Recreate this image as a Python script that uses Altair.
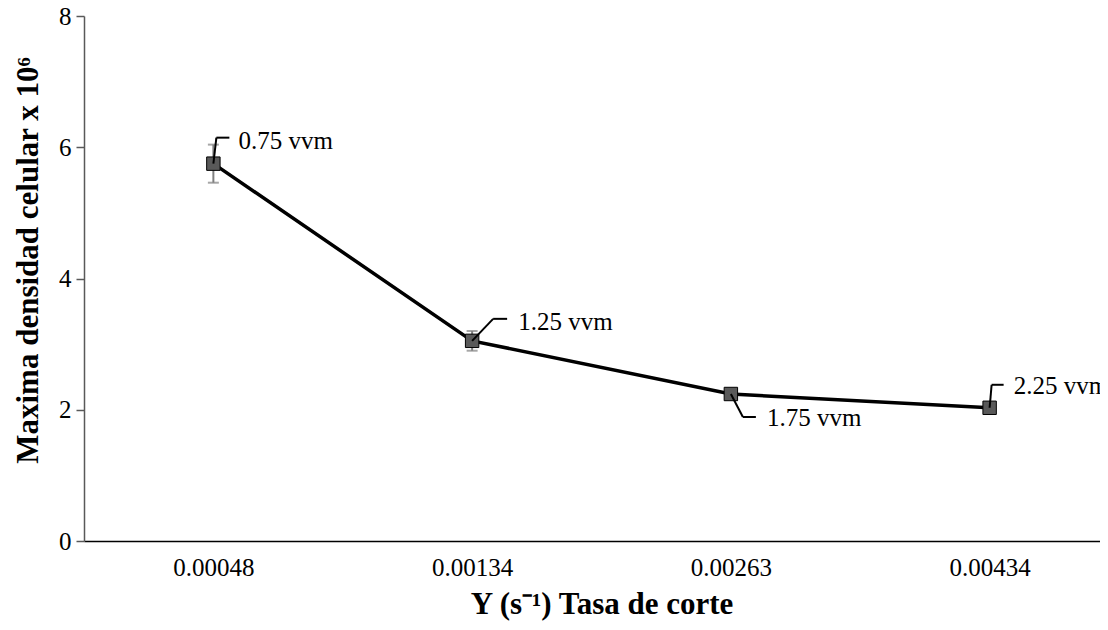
import json
import altair as alt
import pandas as pd

# ---- data ----
categories = ["0.00048", "0.00134", "0.00263", "0.00434"]
density = [5.75, 3.05, 2.24, 2.03]
error = [0.29, 0.15, 0.08, 0.06]
labels = ["0.75 vvm", "1.25 vvm", "1.75 vvm", "2.25 vvm"]

df = pd.DataFrame({
    "idx": list(range(len(categories))),
    "cat": categories,
    "val": density,
    "lo": [v - e for v, e in zip(density, error)],
    "hi": [v + e for v, e in zip(density, error)],
    "label": labels,
})

FONT = "Liberation Serif"
W_RANGE = 1035

label_expr = json.dumps(categories) + "[datum.value]"

x = alt.X(
    "idx:Q",
    scale=alt.Scale(domain=[-0.5, len(categories) - 0.5], range=[0, W_RANGE], nice=False, zero=False),
    axis=alt.Axis(
        values=list(range(len(categories))),
        labelExpr=label_expr,
        title="Y (s⁻¹) Tasa de corte",
        ticks=False, tickSize=0, grid=False,
        domainColor="black", domainWidth=1.5,
        labelFont=FONT, labelFontSize=25, labelColor="black", labelPadding=14,
        titleFont=FONT, titleFontSize=31, titleFontWeight="bold", titleColor="black",
        titleX=W_RANGE / 2, titleY=63, titleBaseline="middle", titleAlign="center",
    ),
)
y_axis = alt.Axis(
    values=[0, 2, 4, 6, 8], format="d", grid=False,
    tickSize=8, tickColor="#595959", tickWidth=1.5,
    domainColor="#595959", domainWidth=1.5,
    labelFont=FONT, labelFontSize=25, labelColor="black", labelPadding=5,
    title="Maxima densidad celular x 10⁶",
    titleFont=FONT, titleFontSize=31, titleFontWeight="bold", titleColor="black",
    titleX=-56, titleY=244, titleAngle=-90, titleBaseline="middle", titleAlign="center",
)
y = alt.Y("val:Q", scale=alt.Scale(domain=[0, 8]), axis=y_axis)

base = alt.Chart(df)

line = base.mark_line(color="black", strokeWidth=3.5).encode(x=x, y=y)
err = base.mark_rule(color="#808080", strokeWidth=2).encode(x=x, y="lo:Q", y2="hi:Q")
cap_lo = base.mark_tick(color="#808080", thickness=2, size=11, orient="horizontal").encode(x=x, y="lo:Q")
cap_hi = base.mark_tick(color="#808080", thickness=2, size=11, orient="horizontal").encode(x=x, y="hi:Q")
pts = base.mark_point(shape="square", filled=True, fill="#595959", stroke="black",
                      strokeWidth=1, size=180, opacity=1).encode(x=x, y=y)

# leader-line styling per label: (elbow dx, elbow dy, end dx, text dx, text dy)
leader_style = [
    (3, -26, 16, 25, -23),
    (21, -22, 35, 46, -19),
    (12, 23, 25, 36, 24),
    (2, -23, 14, 24, -22),
]

layers = [line, err, cap_lo, cap_hi, pts]
for i, (ex, ey, hx, tx, ty) in enumerate(leader_style):
    sub = base.transform_filter(alt.datum.idx == i)
    seg1 = sub.mark_rule(color="black", strokeWidth=2, xOffset=0, yOffset=0,
                         x2Offset=ex, y2Offset=ey).encode(x=x, x2="idx:Q", y=y, y2="val:Q")
    seg2 = sub.mark_rule(color="black", strokeWidth=2, xOffset=ex, yOffset=ey,
                         x2Offset=hx, y2Offset=ey).encode(x=x, x2="idx:Q", y=y, y2="val:Q")
    txt = sub.mark_text(align="left", baseline="middle", dx=tx, dy=ty, font=FONT,
                        fontSize=25, color="black").encode(x=x, y=y, text="label:N")
    layers += [seg1, seg2, txt]

chart = alt.layer(*layers).properties(
    width=1016, height=525,
    autosize=alt.AutoSizeParams(type="none"),
    padding={"left": 76, "top": 8, "right": 0, "bottom": 81},
).configure_view(stroke=None)

chart.save("out.html", embed_options={"renderer": "svg", "actions": False})
